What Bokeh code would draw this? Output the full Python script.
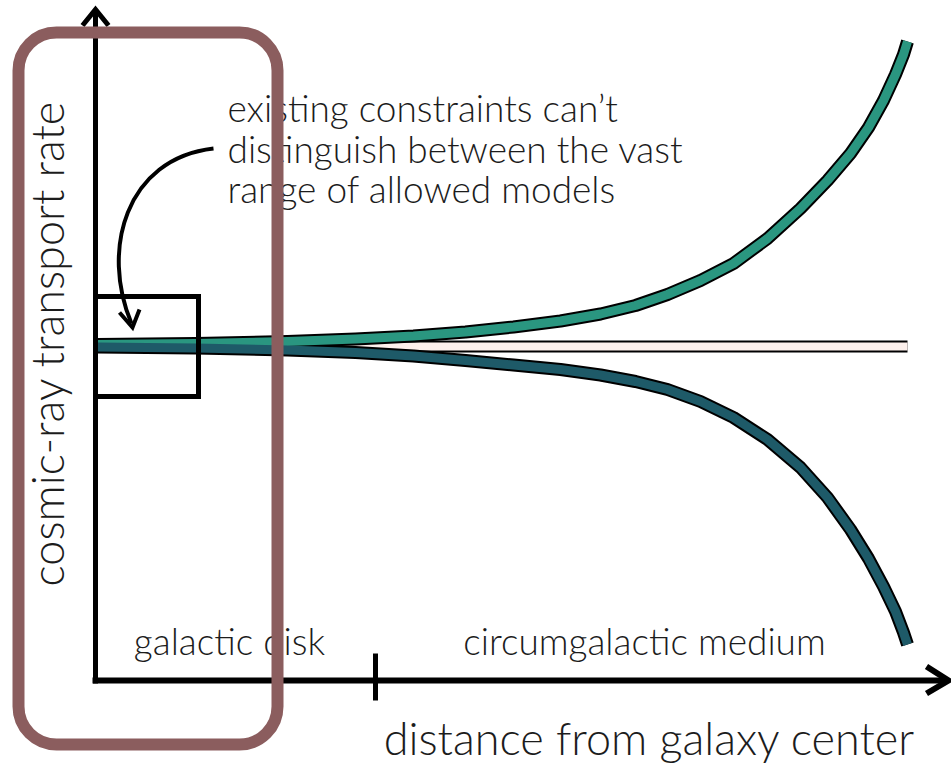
import numpy as np
from bokeh.plotting import figure
from bokeh.models import Range1d, BoxAnnotation
from bokeh.core.properties import value
from bokeh.embed import file_html
from bokeh.resources import INLINE

# ---- data (x: distance from galaxy centre, y: transport rate, arbitrary units) ----
upper_x = [2, 100, 192, 260, 318, 370, 418, 465, 505, 540, 572, 605, 638, 672, 705, 732, 755, 773, 788, 800, 808, 812]
upper_y = [336, 337, 339, 341.5, 344.5, 348.5, 353.5, 359.5, 366.5, 375, 386, 400, 417, 442, 472, 500, 527, 553, 580, 606, 626, 639]
lower_x = [2, 100, 192, 260, 318, 370, 418, 465, 505, 540, 572, 605, 638, 672, 705, 732, 755, 773, 788, 800, 808, 812]
lower_y = [333.5, 332.5, 330.5, 328, 324.5, 320, 315.5, 311, 305.5, 299, 291, 279, 263, 241, 213, 183, 151, 122, 94, 69, 48, 36]
flat_x = [2, 812]
flat_y = [334, 334]

# region boundary tick
tick_x = [280]
tick_y = [-20, 27]

# labels
ylabel = "cosmic-ray transport rate"
xlabel = "distance from galaxy center"
region_labels = ["galactic disk", "circumgalactic medium"]
region_x = [134, 549]
region_y = [40, 40]
note_lines = ["existing constraints can\u2019t", "distinguish between the vast", "range of allowed models"]
note_x = [132, 132, 132]
note_y = [573, 532, 492]

# zoom box around the disk region
zbox = dict(left=0, right=103, bottom=284, top=384)
# highlight box
hbox = dict(left=-77, right=182, bottom=-64, top=648)

# curved pointer arrow (bezier) and its head
ptr = dict(x0=118, y0=532, cx0=30, cy0=522, cx1=5, cy1=430, x1=36, y1=357)
ptr_head_x = [24, 37, 44]
ptr_head_y = [368, 353, 371]

# axes
yaxis_x = [0, 0]; yaxis_y = [-3, 669]
xaxis_x = [-3, 850]; xaxis_y = [0, 0]
yhead_x = [-13, 0, 13]; yhead_y = [655, 671, 655]
xhead_x = [831, 853, 831]; xhead_y = [14, 0, -13]

FONT = value("Lato Light")
TXT = "#1c1c1c"
GREEN = "#2A9680"
TEAL = "#1E5A68"
PINK = "#FDF0EC"
BROWN = "#8B5D5E"

p = figure(width=951, height=768, output_backend="svg", toolbar_location=None,
           x_range=Range1d(-95, 856), y_range=Range1d(-88, 680), min_border=0)
p.axis.visible = False
p.grid.visible = False
p.outline_line_color = None
p.background_fill_color = "white"
p.border_fill_color = "white"

# flat model
p.line(flat_x, flat_y, line_color="black", line_width=12, line_cap="butt")
p.line(flat_x, flat_y, line_color=PINK, line_width=8, line_cap="butt")
# diverging models: outlines first, then fills
p.line(upper_x, upper_y, line_color="black", line_width=13, line_join="round", line_cap="butt")
p.line(lower_x, lower_y, line_color="black", line_width=13, line_join="round", line_cap="butt")
p.line(upper_x, upper_y, line_color=GREEN, line_width=9, line_join="round", line_cap="butt")
p.line(lower_x, lower_y, line_color=TEAL, line_width=9, line_join="round", line_cap="butt")

# zoom box
p.quad(left=[zbox["left"]], right=[zbox["right"]], bottom=[zbox["bottom"]], top=[zbox["top"]],
       fill_color=None, line_color="black", line_width=5, line_join="miter")

# axes
p.line(yaxis_x, yaxis_y, line_color="black", line_width=5, line_cap="butt")
p.line(xaxis_x, xaxis_y, line_color="black", line_width=6, line_cap="butt")
p.line(yhead_x, yhead_y, line_color="black", line_width=5, line_join="miter")
p.line(xhead_x, xhead_y, line_color="black", line_width=6, line_join="miter")
p.line([tick_x[0], tick_x[0]], tick_y, line_color="black", line_width=5, line_cap="butt")

# pointer arrow
p.bezier(x0=[ptr["x0"]], y0=[ptr["y0"]], x1=[ptr["x1"]], y1=[ptr["y1"]],
         cx0=[ptr["cx0"]], cy0=[ptr["cy0"]], cx1=[ptr["cx1"]], cy1=[ptr["cy1"]],
         line_color="black", line_width=4)
p.line(ptr_head_x, ptr_head_y, line_color="black", line_width=4, line_join="miter")

# texts
p.text(x=note_x, y=note_y, text=note_lines, text_font=FONT, text_font_size="37px",
       text_color=TXT, text_align="left", text_baseline="alphabetic")
p.text(x=region_x, y=region_y, text=region_labels, text_font=FONT, text_font_size="37px",
       text_color=TXT, text_align="center", text_baseline="alphabetic")
p.text(x=[554], y=[-57], text=[xlabel], text_font=FONT, text_font_size="45px",
       text_color=TXT, text_align="center", text_baseline="alphabetic")
p.text(x=[-49], y=[337], text=[ylabel], text_font=FONT, text_font_size="45px",
       text_color=TXT, text_align="center", text_baseline="middle", angle=np.pi / 2)

# highlight rounded box
box = BoxAnnotation(left=hbox["left"], right=hbox["right"], bottom=hbox["bottom"], top=hbox["top"],
                    fill_alpha=0, fill_color=None, line_color=BROWN, line_alpha=1.0,
                    line_width=12, border_radius=38)
p.add_layout(box)

open("out.html", "w").write(file_html(p, INLINE))
